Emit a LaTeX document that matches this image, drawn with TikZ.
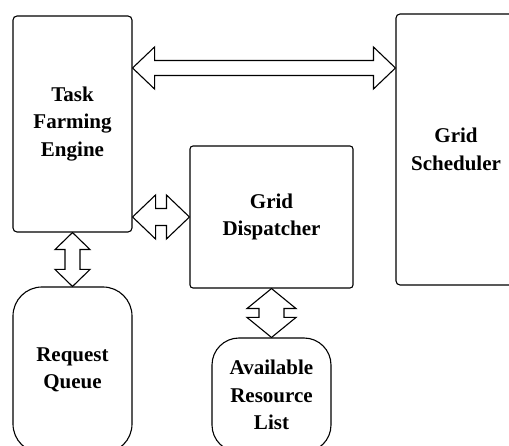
\documentclass[tikz,border=0pt]{standalone}
\usepackage{fontspec}
\setmainfont{Liberation Serif}
\usetikzlibrary{positioning,calc}
% hollow double arrow between two points
\newcommand\fatarrow[5]{%
\draw[fatline] (#1) -- ($(#1)!#5!(#2)!#4!90:(#2)$) -- ($(#1)!#5!(#2)!#3!90:(#2)$)
	-- ($(#2)!#5!(#1)!#3!-90:(#1)$) -- ($(#2)!#5!(#1)!#4!-90:(#1)$) -- (#2)
	-- ($(#2)!#5!(#1)!#4!90:(#1)$) -- ($(#2)!#5!(#1)!#3!90:(#1)$)
	-- ($(#1)!#5!(#2)!#3!-90:(#2)$) -- ($(#1)!#5!(#2)!#4!-90:(#2)$) -- cycle;
}
\begin{document}
\begin{tikzpicture}[x=1pt,y=-1pt,
	block/.style={draw,line width=1.1pt,rounded corners=4pt,align=center,inner sep=0pt,
		font=\fontsize{21}{27.5}\selectfont\bfseries},
	pill/.style={block,rounded corners=29pt},
	fatline/.style={draw,fill=white,line width=1.1pt,line join=miter}]
	%% page
	\useasboundingbox (0,0) rectangle (509,446);
	\clip (0,0) rectangle (509,446);
	
	\node[block,minimum width=119pt,minimum height=216pt] (engine) at (72.5,124) {Task\\Farming\\Engine};
	\node[block,minimum width=120pt,minimum height=271pt] (sched) at (456,149.5) {Grid\\Scheduler};
	\node[block,minimum width=163pt,minimum height=142pt,rounded corners=3pt] (disp) at (271.5,217) {Grid\\Dispatcher};
	\node[pill,minimum width=119pt,minimum height=166pt] (queue) at (72.5,370) {Request\\Queue};
	\node[pill,minimum width=119pt,minimum height=114pt,rounded corners=27pt] (avail) at (271.5,395) {Available\\Resource\\List};
	
	% connectors
	\coordinate (hi) at (0,68);
	\fatarrow{engine.east |- hi}{sched.west |- hi}{7.5pt}{21pt}{22pt}
	\fatarrow{disp.west -| engine.east}{disp.west}{8.5pt}{22pt}{23pt}
	\fatarrow{engine.south}{queue.north}{7.5pt}{17.5pt}{17pt}
	\fatarrow{disp.south}{avail.north}{12.5pt}{24.5pt}{20pt}
\end{tikzpicture}
\end{document}
